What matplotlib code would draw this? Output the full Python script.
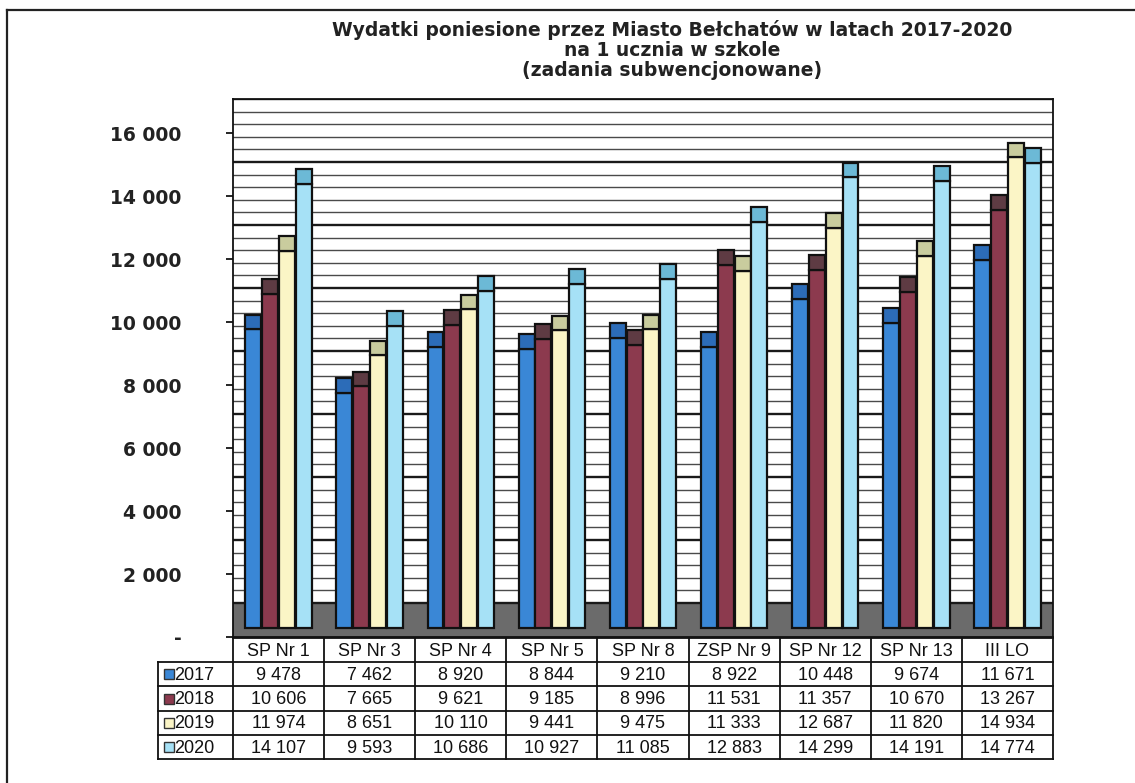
import numpy as np
import matplotlib
matplotlib.use('Agg')
import matplotlib.pyplot as plt
from matplotlib.lines import Line2D
from matplotlib.ticker import FuncFormatter

schools = ['SP Nr 1', 'SP Nr 3', 'SP Nr 4', 'SP Nr 5', 'SP Nr 8',
           'ZSP Nr 9', 'SP Nr 12', 'SP Nr 13', 'III LO']
years = ['2017', '2018', '2019', '2020']
v2017 = [9478, 7462, 8920, 8844, 9210, 8922, 10448, 9674, 11671]
v2018 = [10606, 7665, 9621, 9185, 8996, 11531, 11357, 10670, 13267]
v2019 = [11974, 8651, 10110, 9441, 9475, 11333, 12687, 11820, 14934]
v2020 = [14107, 9593, 10686, 10927, 11085, 12883, 14299, 14191, 14774]
series = [v2017, v2018, v2019, v2020]
yticks = list(range(0, 16001, 2000))

face_colors = ['#3a87d6', '#8c3a4e', '#fbf5c6', '#a6e1f6']
cap_colors = ['#2c6cb8', '#5e3b43', '#c9cc9e', '#6cb9d6']

title = ('Wydatki poniesione przez Miasto Bełchatów w latach 2017-2020\n'
         'na 1 ucznia w szkole\n'
         '(zadania subwencjonowane)')

# fake 3D look (data units)
LIFT = 290      # front face of bars sits a bit above axis zero
WALL = 1080     # back wall starts at top of the floor
CAP = 470       # top face of each bar
YMAX = 17080

W, H = 1135, 783
fig = plt.figure(figsize=(W / 100, H / 100), dpi=100)


def fx(px):
    return px / W


def fy(py):
    return 1 - py / H


def fmt(v):
    return f'{int(v):,}'.replace(',', ' ')


# outer frame of the scan (left and top edges only visible)
fig.add_artist(Line2D([fx(7), fx(7)], [0, fy(10)], color='#222', lw=1.6))
fig.add_artist(Line2D([fx(7), 1], [fy(10), fy(10)], color='#222', lw=1.6))

ax = fig.add_axes([fx(233), fy(637), fx(1053) - fx(233), fy(99) - fy(637)])
ax.set_xlim(-0.5, len(schools) - 0.5)
ax.set_ylim(0, YMAX)

# floor and back wall grid
ax.axhspan(0, WALL, color='#6b6b6b', zorder=1)
for g in range(0, 16001, 400):
    major = (g % 2000 == 0)
    ax.axhline(WALL + g, color='#1a1a1a' if major else '#4a4a4a',
               lw=1.7 if major else 1.0, zorder=2)

# bars
x = np.arange(len(schools))
bw = 0.175
step = 0.185
for i, vals in enumerate(series):
    xi = x + (i - 1.5) * step
    vals = np.array(vals)
    ax.bar(xi, vals, width=bw, bottom=LIFT, color=face_colors[i],
           edgecolor='#111', linewidth=1.6, zorder=3)
    ax.bar(xi, CAP, width=bw, bottom=vals + LIFT, color=cap_colors[i],
           edgecolor='#111', linewidth=1.6, zorder=3)

ax.set_xticks([])
ax.set_yticks(yticks)
ax.yaxis.set_major_formatter(FuncFormatter(lambda v, p: '-' if v == 0 else fmt(v)))
ax.tick_params(axis='y', direction='out', length=5, width=1.2, pad=32,
               labelsize=13.5)
for lbl in ax.get_yticklabels():
    lbl.set_fontweight('bold')
    lbl.set_color('#222')
for s in ax.spines.values():
    s.set_color('#111')
    s.set_linewidth(1.3)

# data table under the chart
col_px = (1053 - 233) / len(schools)
lab_w = (233 - 158) / col_px
tax = fig.add_axes([fx(158), fy(759), fx(1053) - fx(158), fy(638) - fy(759)])
tax.set_xlim(-0.5 - lab_w, len(schools) - 0.5)
tax.set_ylim(5, 0)
tax.axis('off')

lc = '#111'
tax.plot([-0.5, len(schools) - 0.5], [0, 0], color=lc, lw=1.3, clip_on=False)
for r in range(1, 6):
    tax.plot([-0.5 - lab_w, len(schools) - 0.5], [r, r], color=lc, lw=1.3, clip_on=False)
for c in range(len(schools) + 1):
    tax.plot([c - 0.5, c - 0.5], [0, 5], color=lc, lw=1.3, clip_on=False)
tax.plot([-0.5 - lab_w, -0.5 - lab_w], [1, 5], color=lc, lw=1.3, clip_on=False)

tfont = dict(fontsize=13, family='Liberation Sans', color='#111')
for c, name in enumerate(schools):
    tax.text(c, 0.55, name, ha='center', va='center', **tfont)
for r, vals in enumerate(series):
    for c, v in enumerate(vals):
        tax.text(c, r + 1.55, fmt(v), ha='center', va='center', **tfont)
    tax.plot(-0.5 - lab_w + 0.12, r + 1.5, marker='s', markersize=6.5,
             markerfacecolor=face_colors[r], markeredgecolor='#333',
             markeredgewidth=1.0, clip_on=False)
    tax.text(-0.5 - lab_w + 0.175, r + 1.55, years[r], ha='left', va='center', **tfont)

fig.text(fx(672), fy(50), title, ha='center', va='center', fontsize=13.5,
         fontweight='bold', linespacing=1.1, color='#222')

fig.savefig('out.png', dpi=100)
